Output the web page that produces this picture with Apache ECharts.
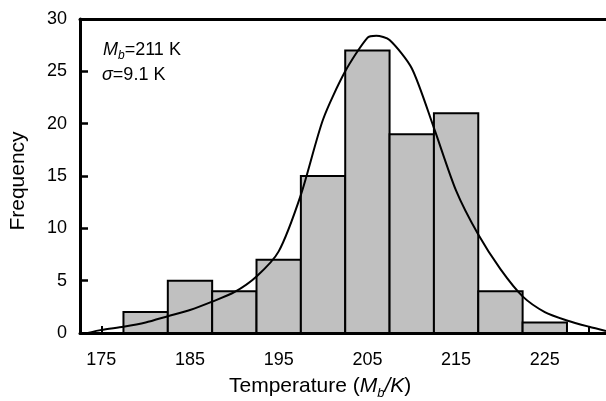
<!DOCTYPE html>
<html>
<head>
<meta charset="utf-8">
<script src="https://cdn.jsdelivr.net/npm/echarts@6/dist/echarts.min.js"></script>
<style>
  html, body { margin: 0; padding: 0; background: #fff; }
  #chart { width: 606px; height: 401px; }
</style>
</head>
<body>
<div id="chart"></div>
<script>
// histogram bins (temperature, K) and counts
const binLo = [177.5, 182.5, 187.5, 192.5, 197.5, 202.5, 207.5, 212.5, 217.5, 222.5];
const binHi = [182.5, 187.5, 192.5, 197.5, 202.5, 207.5, 212.5, 217.5, 222.5, 227.5];
const counts = [2, 5, 4, 7, 15, 27, 19, 21, 4, 1];

// fitted curve
const curveX = [173.5, 175, 177.5, 180, 182.5, 185, 187.5, 190, 192.5, 195, 197.5, 200, 202.5, 205, 206, 207.5, 210, 212.5, 215, 217.5, 220, 222.5, 225, 227.5, 230, 231.9];
const curveY = [0, 0.3, 0.6, 1.0, 1.6, 2.2, 3.0, 3.9, 5.4, 7.8, 13.2, 20.4, 25.0, 28.2, 28.4, 28.0, 25.3, 19.6, 13.6, 9.4, 6.1, 3.5, 2.0, 1.2, 0.6, 0.2];

const xLabelTicks = [175, 185, 195, 205, 215, 225];
const xMinorTicks = [175, 180, 185, 190, 195, 200, 205, 210, 215, 220, 225, 230];

const FONT = '"Liberation Sans", Arial, sans-serif';

const chart = echarts.init(document.getElementById('chart'));

const bars = binLo.map((lo, i) => [lo, binHi[i], counts[i]]);
const curve = curveX.map((x, i) => [x, curveY[i]]);

chart.setOption({
  animation: false,
  backgroundColor: '#fff',
  grid: { left: 80, right: 0, top: 19, bottom: 68 },
  xAxis: [
    {
      type: 'value',
      min: 172.6,
      max: 231.9,
      axisLine: { lineStyle: { color: '#000', width: 3 } },
      axisTick: { inside: true, length: 7, lineStyle: { color: '#000', width: 2 }, customValues: xMinorTicks },
      axisLabel: { customValues: xLabelTicks, color: '#000', fontSize: 18, fontFamily: FONT, margin: 18 },
      splitLine: { show: false }
    },
    {
      type: 'value',
      position: 'top',
      min: 172.6,
      max: 231.9,
      axisLine: { show: true, lineStyle: { color: '#000', width: 3 } },
      axisTick: { show: false },
      axisLabel: { show: false },
      splitLine: { show: false }
    }
  ],
  yAxis: {
    type: 'value',
    min: 0,
    max: 30,
    interval: 5,
    axisLine: { show: true, lineStyle: { color: '#000', width: 3 } },
    axisTick: { inside: true, length: 8, lineStyle: { color: '#000', width: 2.5 } },
    axisLabel: { color: '#000', fontSize: 18, fontFamily: FONT, margin: 13 },
    splitLine: { show: false }
  },
  series: [
    {
      type: 'custom',
      data: bars,
      z: 2,
      renderItem: (params, api) => {
        const p0 = api.coord([api.value(0), api.value(2)]);
        const p1 = api.coord([api.value(1), 0]);
        return {
          type: 'rect',
          shape: { x: p0[0], y: p0[1], width: p1[0] - p0[0], height: p1[1] - p0[1] },
          style: { fill: '#c0c0c0', stroke: '#000', lineWidth: 2 }
        };
      }
    },
    {
      type: 'line',
      data: curve,
      smooth: 0.25,
      showSymbol: false,
      lineStyle: { color: '#000', width: 2 },
      z: 3
    }
  ],
  graphic: [
    {
      type: 'text',
      left: 103,
      top: 41,
      style: {
        text: '{i|M}{s|b}{n|=211 K}',
        rich: {
          i: { fontSize: 18, fontStyle: 'italic', fontFamily: FONT, fill: '#000', verticalAlign: 'top' },
          s: { fontSize: 12, fontStyle: 'italic', fontFamily: FONT, fill: '#000', verticalAlign: 'top', padding: [9, 0, 0, 0] },
          n: { fontSize: 18, fontFamily: FONT, fill: '#000', verticalAlign: 'top' }
        }
      }
    },
    {
      type: 'text',
      left: 102,
      top: 66,
      style: {
        text: '{i|σ}{n|=9.1 K}',
        rich: {
          i: { fontSize: 18, fontStyle: 'italic', fontFamily: FONT, fill: '#000' },
          n: { fontSize: 18, fontFamily: FONT, fill: '#000' }
        }
      }
    },
    {
      type: 'text',
      left: 229,
      top: 376,
      style: {
        text: '{n|Temperature (}{i|M}{s|b}{i|/K}{n|)}',
        rich: {
          n: { fontSize: 21, fontFamily: FONT, fill: '#000', verticalAlign: 'top' },
          i: { fontSize: 21, fontStyle: 'italic', fontFamily: FONT, fill: '#000', verticalAlign: 'top' },
          s: { fontSize: 13, fontStyle: 'italic', fontFamily: FONT, fill: '#000', verticalAlign: 'top', padding: [11, 0, 0, 0] }
        }
      }
    },
    {
      type: 'text',
      x: 18,
      y: 181,
      rotation: Math.PI / 2,
      style: {
        text: 'Frequency',
        fontSize: 21,
        fontFamily: FONT,
        fill: '#000',
        align: 'center',
        verticalAlign: 'middle'
      }
    }
  ]
});
</script>
</body>
</html>
